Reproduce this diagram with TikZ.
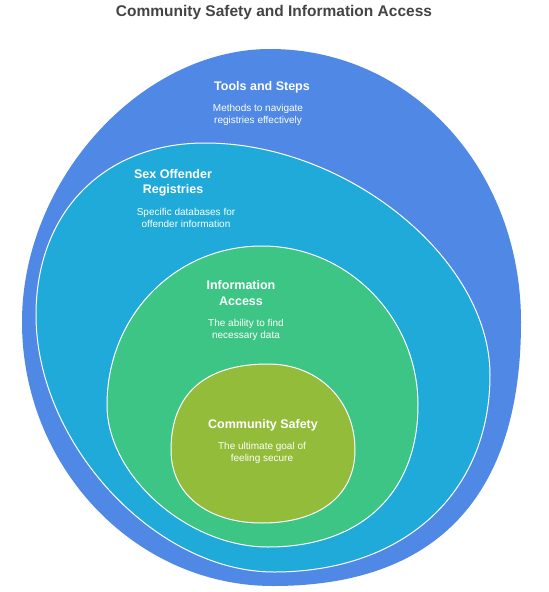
\documentclass[tikz,border=0pt]{standalone}
\usepackage{fontspec}
\setmainfont{Liberation Sans}
\usetikzlibrary{positioning}
\definecolor{toolblue}{HTML}{4F88E5}
\definecolor{regcyan}{HTML}{1FAAD9}
\definecolor{infogreen}{HTML}{3DC586}
\definecolor{safeolive}{HTML}{93BC3A}
\definecolor{titlegray}{HTML}{444444}

\begin{document}
\begin{tikzpicture}[x=1pt,y=-1pt,
    ring/.style={draw=white,line width=1pt},
    head/.style={text=white,font=\bfseries\fontsize{12.5}{15.5}\selectfont,align=center},
    desc/.style={text=white,font=\fontsize{10}{12}\selectfont,align=center}]
    \useasboundingbox (0,0) rectangle (549,592);

    \fill[toolblue] (270,49) .. controls (411,49) and (521,169) .. (521,322)
      .. controls (521,496) and (437,586) .. (273,586)
      .. controls (135,586) and (22,467) .. (22,322)
      .. controls (22,180) and (141,49) .. (270,49) -- cycle;
    \filldraw[regcyan,ring] (205,143) .. controls (347,143) and (490,259) .. (490,375)
      .. controls (490,493) and (404,572) .. (274,572)
      .. controls (155,572) and (36,443) .. (36,315)
      .. controls (36,212) and (104,143) .. (205,143) -- cycle;
    \filldraw[infogreen,ring] (262,246) .. controls (348,246) and (418,318) .. (418,405)
      .. controls (418,493) and (361,547) .. (268,547)
      .. controls (188,547) and (107,476) .. (107,405)
      .. controls (107,316) and (175,246) .. (262,246) -- cycle;
    \filldraw[safeolive,ring] (268,364) .. controls (318,364) and (355,400) .. (355,450)
      .. controls (355,495) and (320,523) .. (262,523)
      .. controls (207,523) and (171,494) .. (171,450)
      .. controls (171,394) and (205,364) .. (268,364) -- cycle;

    \node[text=titlegray,font=\bfseries\fontsize{15.5}{18}\selectfont] (title) at (274,12)
      {Community Safety and Information Access};

    \node[head] (tools) at (262,87) {Tools and Steps};
    \node[desc] (toolsd) at (258,115) {Methods to navigate\\registries effectively};
    \node[head] (reg) at (173,183) {Sex Offender\\Registries};
    \node[desc] (regd) at (186,218) {Specific databases for\\offender information};
    \node[head] (info) at (241,293) {Information\\Access};
    \node[desc] (infod) at (246,330) {The ability to find\\necessary data};
    \node[head] (safe) at (263,425) {Community Safety};
    \node[desc] (safed) at (262,453) {The ultimate goal of\\feeling secure};
\end{tikzpicture}
\end{document}
